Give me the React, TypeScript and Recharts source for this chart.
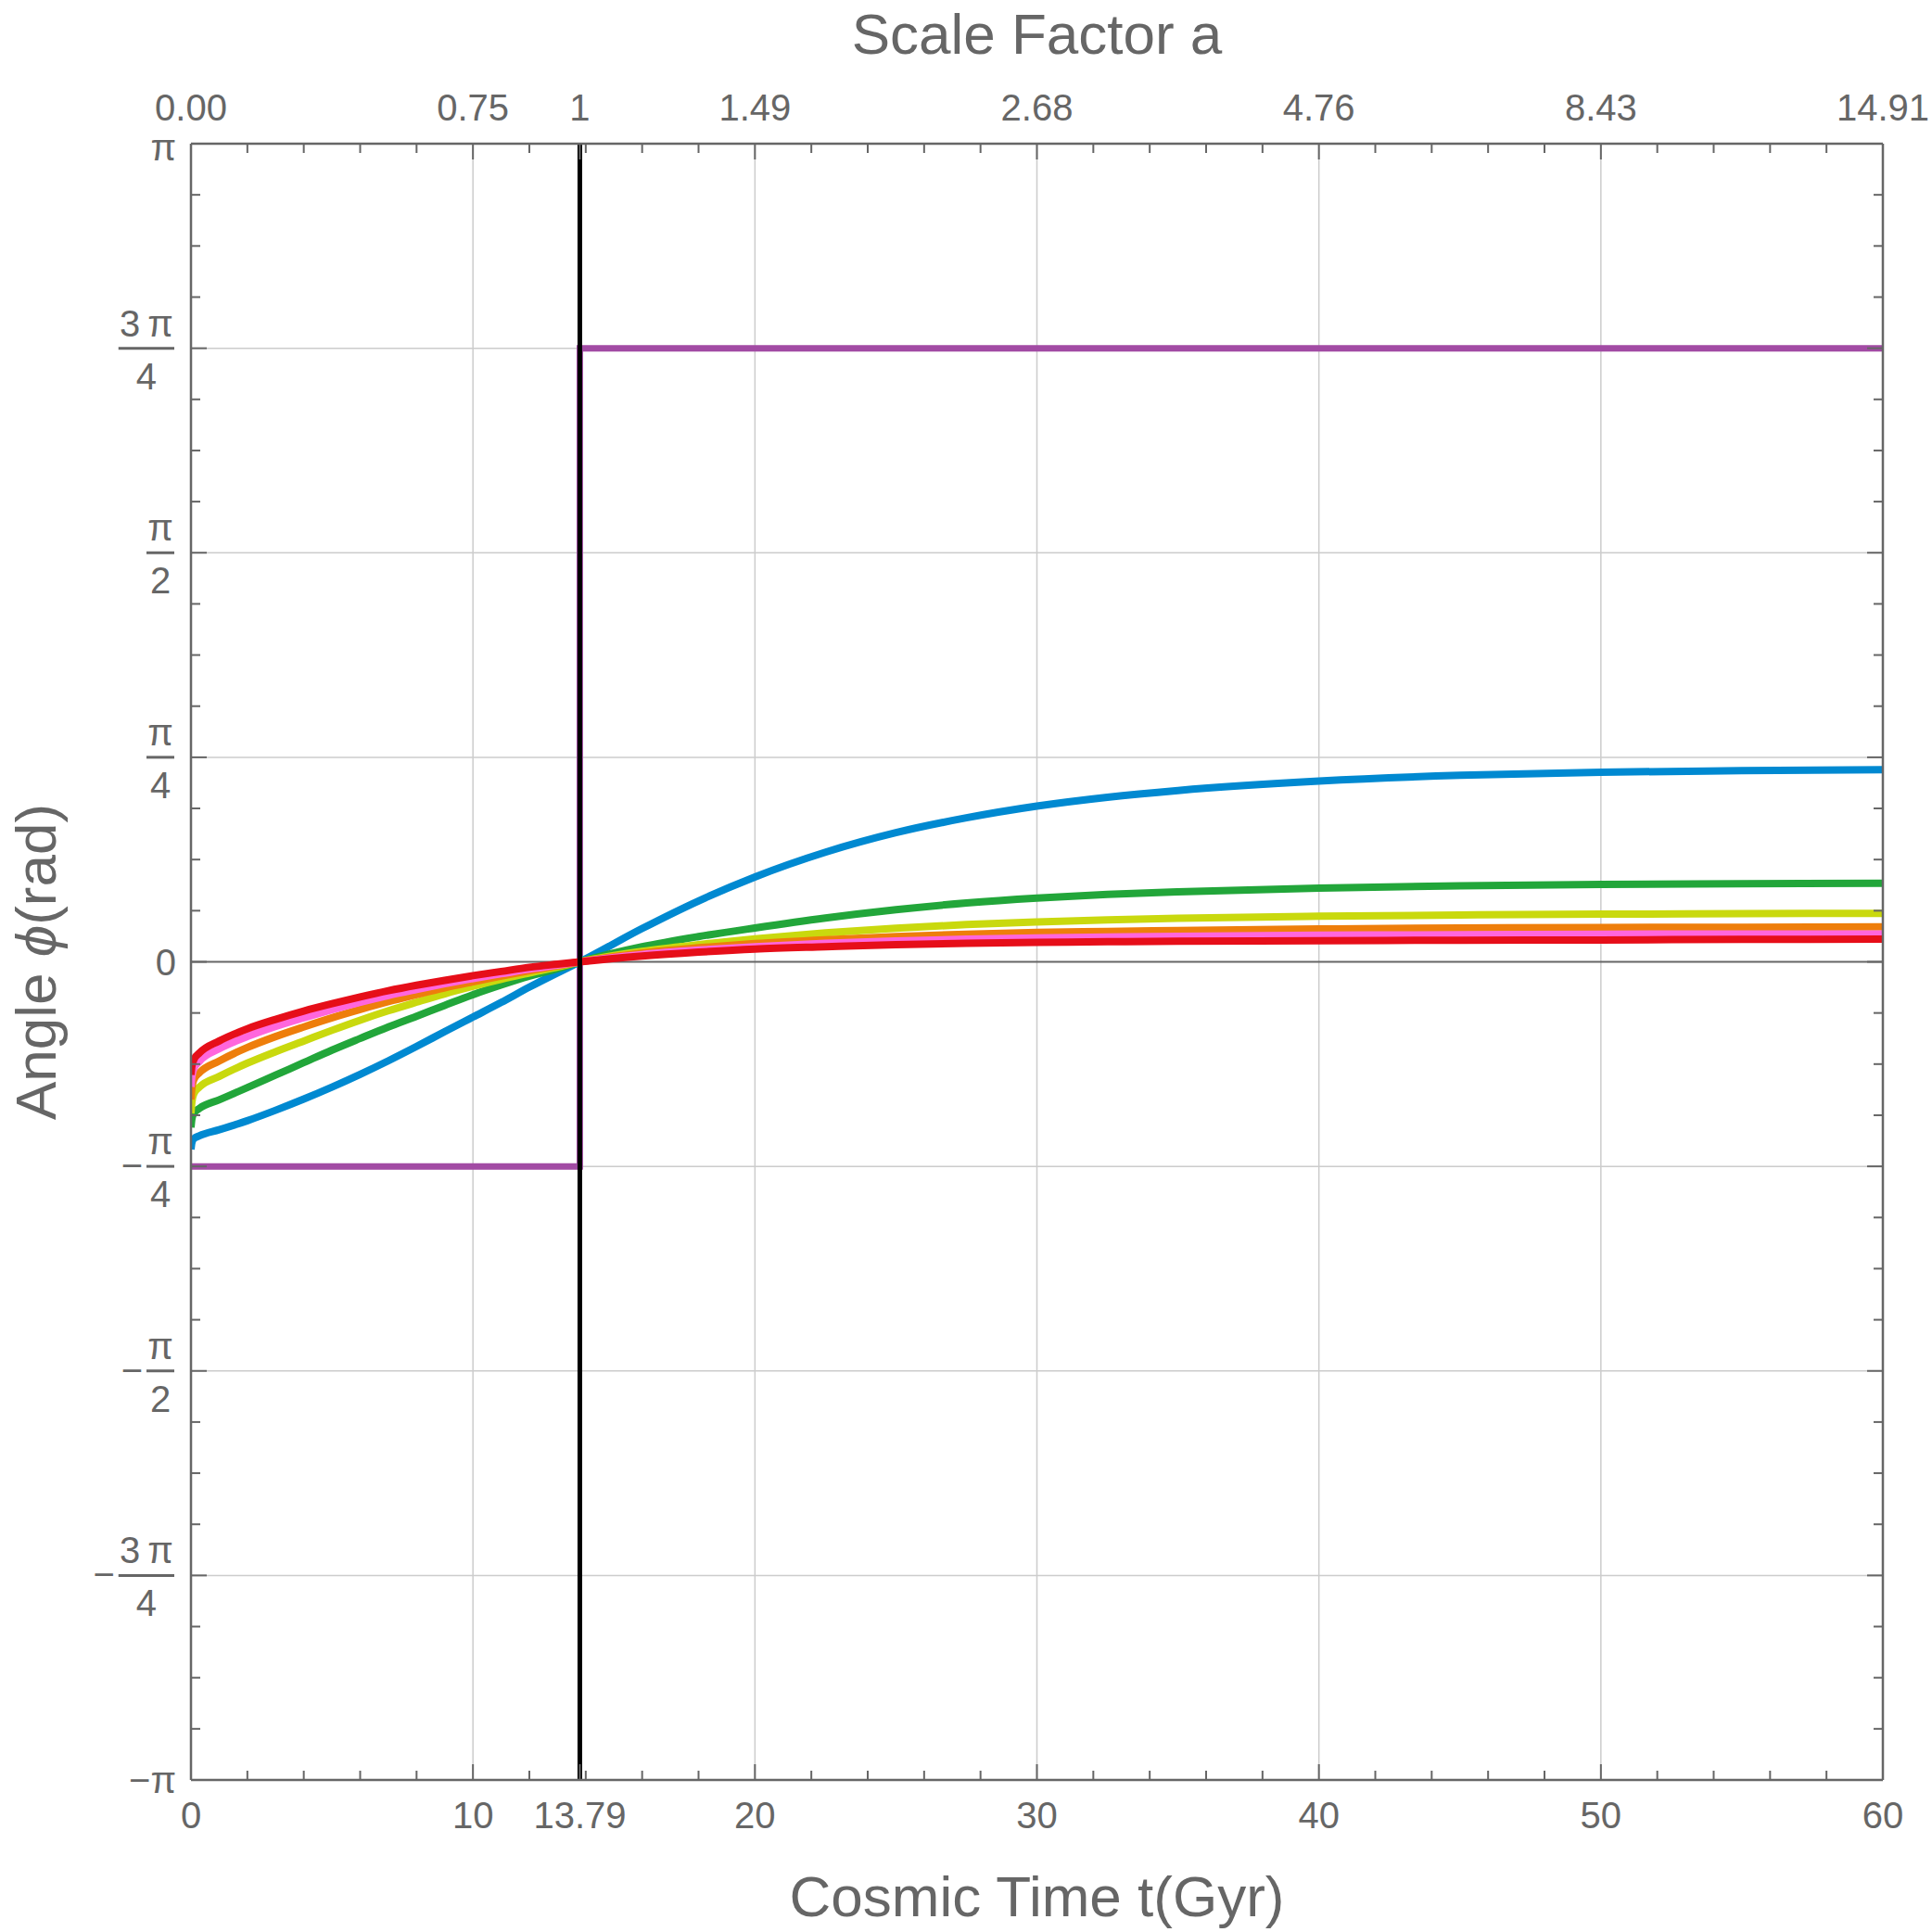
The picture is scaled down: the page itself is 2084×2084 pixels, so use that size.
import React from "react";
import { LineChart, Line, XAxis, YAxis, ReferenceLine, Label } from "recharts";

const PI = Math.PI;

// cosmic time samples (Gyr) shared by the six curves
const tSamples = [0, 0.03, 0.1, 0.3, 1, 2, 3, 4, 5, 6, 7, 8, 9, 10, 11, 12, 13, 13.79, 16, 18, 20, 22.5, 25, 27.5, 30, 32.5, 35, 40, 45, 50, 55, 60];

// angle phi (rad)
const blueVals = [-0.72, -0.695, -0.679, -0.668, -0.645, -0.61, -0.57, -0.527, -0.481, -0.432, -0.38, -0.325, -0.268, -0.212, -0.156, -0.097, -0.042, 0, 0.128, 0.234, 0.326, 0.421, 0.496, 0.553, 0.598, 0.632, 0.658, 0.694, 0.716, 0.728, 0.734, 0.738];
const greenVals = [-0.636, -0.605, -0.582, -0.563, -0.53, -0.483, -0.435, -0.387, -0.339, -0.294, -0.25, -0.209, -0.167, -0.126, -0.089, -0.055, -0.026, 0, 0.058, 0.097, 0.13, 0.168, 0.2, 0.226, 0.245, 0.259, 0.269, 0.283, 0.292, 0.297, 0.3, 0.302];
const yellowVals = [-0.582, -0.54, -0.507, -0.481, -0.44, -0.389, -0.345, -0.304, -0.263, -0.224, -0.188, -0.155, -0.123, -0.094, -0.067, -0.043, -0.02, 0, 0.04, 0.066, 0.088, 0.111, 0.129, 0.143, 0.153, 0.161, 0.167, 0.175, 0.18, 0.183, 0.185, 0.186];
const orangeVals = [-0.529, -0.487, -0.453, -0.426, -0.381, -0.329, -0.287, -0.25, -0.215, -0.183, -0.153, -0.126, -0.1, -0.077, -0.055, -0.034, -0.015, 0, 0.034, 0.054, 0.07, 0.085, 0.097, 0.106, 0.113, 0.117, 0.12, 0.126, 0.13, 0.132, 0.133, 0.134];
const pinkVals = [-0.48, -0.442, -0.411, -0.382, -0.334, -0.287, -0.248, -0.215, -0.184, -0.155, -0.129, -0.106, -0.084, -0.064, -0.046, -0.028, -0.013, 0, 0.028, 0.045, 0.058, 0.071, 0.08, 0.087, 0.092, 0.095, 0.098, 0.102, 0.104, 0.106, 0.107, 0.107];
const redVals = [-0.434, -0.402, -0.376, -0.35, -0.304, -0.257, -0.221, -0.189, -0.161, -0.135, -0.111, -0.09, -0.071, -0.053, -0.037, -0.021, -0.009, 0, 0.022, 0.037, 0.049, 0.058, 0.066, 0.071, 0.075, 0.077, 0.079, 0.081, 0.083, 0.084, 0.086, 0.087];

// step curve
const stepT = [0, 13.79, 13.79, 60];
const stepVals = [-PI / 4, -PI / 4, (3 * PI) / 4, (3 * PI) / 4];

// present-day marker
const nowT = [13.79, 13.79];
const nowVals = [-PI, PI];

// axis ticks
const xMajorTicks = [0, 10, 13.79, 20, 30, 40, 50, 60];
const xBottomLabels = ["0", "10", "13.79", "20", "30", "40", "50", "60"];
const xTopLabels = ["0.00", "0.75", "1", "1.49", "2.68", "4.76", "8.43", "14.91"];
const xMinorTicks = [2, 4, 6, 8, 12, 14, 16, 18, 22, 24, 26, 28, 32, 34, 36, 38, 42, 44, 46, 48, 52, 54, 56, 58];
const xGridValues = [10, 20, 30, 40, 50];
const yLabels = ["−π", "−3π/4", "−π/2", "−π/4", "0", "π/4", "π/2", "3π/4", "π"];
const yGridValues = [-3 * PI / 4, -PI / 2, -PI / 4, PI / 4, PI / 2, 3 * PI / 4];

const xTicks = [...xMajorTicks, ...xMinorTicks].sort((a, b) => a - b);
const yTicks = Array.from({ length: 33 }, (_, i) => ((i - 16) * PI) / 16);

const makeSeries = (ts: number[], vs: number[]) => ts.map((t, i) => ({ t, phi: vs[i] }));

const curves = [
  { name: "blue", color: "#0089D1", vals: blueVals },
  { name: "green", color: "#22A63A", vals: greenVals },
  { name: "yellow", color: "#C9D90E", vals: yellowVals },
  { name: "orange", color: "#EE7E0B", vals: orangeVals },
  { name: "pink", color: "#FF66DD", vals: pinkVals },
  { name: "red", color: "#E60E19", vals: redVals },
];

const FONT = "'Liberation Sans', Arial, sans-serif";
const GREY = "#666666";
const TICK_FS = 40;
const MAJOR_LEN = 17;
const MINOR_LEN = 10;

const majorIndex = (v: number) => xMajorTicks.findIndex((m) => Math.abs(m - v) < 1e-6);

const BottomTick = (props: any) => {
  const { x, y, payload } = props;
  const idx = majorIndex(payload.value);
  const len = idx >= 0 ? MAJOR_LEN : MINOR_LEN;
  return (
    <g>
      <line x1={x} y1={y} x2={x} y2={y - len} stroke={GREY} strokeWidth={2} />
      {idx >= 0 && (
        <text x={x} y={y + 52} textAnchor="middle" fontSize={TICK_FS} fill={GREY} fontFamily={FONT}>
          {xBottomLabels[idx]}
        </text>
      )}
    </g>
  );
};

const TopTick = (props: any) => {
  const { x, y, payload } = props;
  const idx = majorIndex(payload.value);
  const len = idx >= 0 ? MAJOR_LEN : MINOR_LEN;
  return (
    <g>
      <line x1={x} y1={y} x2={x} y2={y + len} stroke={GREY} strokeWidth={2} />
      {idx >= 0 && (
        <text x={x} y={y - 25} textAnchor="middle" fontSize={TICK_FS} fill={GREY} fontFamily={FONT}>
          {xTopLabels[idx]}
        </text>
      )}
    </g>
  );
};

const charW = (s: string) => {
  let w = 0;
  for (const c of s) {
    if (c === " " || c === "\u2009") w += 0.2;
    else if (c === "π") w += 0.6;
    else w += 0.556;
  }
  return w * TICK_FS;
};

const LeftTick = (props: any) => {
  const { x, y, payload } = props;
  const k = Math.round(payload.value / (PI / 16));
  const major = k % 4 === 0;
  const len = major ? MAJOR_LEN : MINOR_LEN;
  const line = <line x1={x} y1={y} x2={x + len} y2={y} stroke={GREY} strokeWidth={2} />;
  if (!major) return <g>{line}</g>;
  const label = yLabels[k / 4 + 4];
  const R = x - 18;
  const txt = { fontSize: TICK_FS, fill: GREY, fontFamily: FONT } as any;
  if (!label.includes("/")) {
    const dy = k === 16 ? 18 : 14;
    return (
      <g>
        {line}
        <text x={R + 2} y={y + dy} textAnchor="end" {...txt}>
          {label}
        </text>
      </g>
    );
  }
  const neg = label.startsWith("−");
  const body = neg ? label.slice(1) : label;
  const [numRaw, den] = body.split("/");
  const num = numRaw.length > 1 ? numRaw[0] + "\u2009" + numRaw.slice(1) : numRaw;
  const w = Math.max(charW(num), charW(den)) + 6;
  const cx = R - w / 2;
  return (
    <g>
      {line}
      <line x1={R - w} y1={y} x2={R} y2={y} stroke={GREY} strokeWidth={3} />
      <text x={cx} y={y - 13} textAnchor="middle" {...txt}>
        {num}
      </text>
      <text x={cx} y={y + 44} textAnchor="middle" {...txt}>
        {den}
      </text>
      {neg && (
        <text x={R - w - 4} y={y + 13} textAnchor="end" {...txt}>
          −
        </text>
      )}
    </g>
  );
};

const RightTick = (props: any) => {
  const { x, y, payload } = props;
  const k = Math.round(payload.value / (PI / 16));
  const len = k % 4 === 0 ? MAJOR_LEN : MINOR_LEN;
  return <line x1={x} y1={y} x2={x - len} y2={y} stroke={GREY} strokeWidth={2} />;
};

const titleStyle = { fontSize: 62, fill: GREY, fontFamily: FONT } as any;

const BottomTitle = (props: any) => {
  const vb = props.viewBox;
  return (
    <text x={vb.x + vb.width / 2} y={vb.y + 147} textAnchor="middle" {...titleStyle}>
      Cosmic Time t(Gyr)
    </text>
  );
};

const TopTitle = (props: any) => {
  const vb = props.viewBox;
  return (
    <text x={vb.x + vb.width / 2} y={vb.y + 58} textAnchor="middle" {...titleStyle}>
      Scale Factor a
    </text>
  );
};

const LeftTitle = (props: any) => {
  const vb = props.viewBox;
  const cx = vb.x + 60;
  const cy = vb.y + vb.height / 2;
  return (
    <text x={cx} y={cy} textAnchor="middle" transform={`rotate(-90, ${cx}, ${cy})`} {...titleStyle}>
      Angle <tspan fontStyle="italic">ϕ</tspan>(rad)
    </text>
  );
};

export default function App() {
  return (
    <div style={{ position: "absolute", left: 0, top: 0, background: "#fff" }}>
      <LineChart width={2084} height={2084} margin={{ top: 0, right: 0, bottom: 0, left: 0 }}>
        <XAxis
          xAxisId="bottom"
          orientation="bottom"
          type="number"
          dataKey="t"
          domain={[0, 60]}
          allowDataOverflow
          ticks={xTicks}
          interval={0}
          height={164}
          tickSize={0}
          tickMargin={0}
          tickLine={false}
          axisLine={{ stroke: GREY, strokeWidth: 2.5 }}
          tick={<BottomTick />}
        >
          <Label content={<BottomTitle />} />
        </XAxis>
        <XAxis
          xAxisId="top"
          orientation="top"
          type="number"
          dataKey="t"
          domain={[0, 60]}
          allowDataOverflow
          ticks={xTicks}
          interval={0}
          height={155}
          tickSize={0}
          tickMargin={0}
          tickLine={false}
          axisLine={{ stroke: GREY, strokeWidth: 2.5 }}
          tick={<TopTick />}
        >
          <Label content={<TopTitle />} />
        </XAxis>
        <YAxis
          yAxisId="left"
          orientation="left"
          type="number"
          domain={[-PI, PI]}
          allowDataOverflow
          ticks={yTicks}
          interval={0}
          width={206}
          tickSize={0}
          tickMargin={0}
          tickLine={false}
          axisLine={{ stroke: GREY, strokeWidth: 2.5 }}
          tick={<LeftTick />}
        >
          <Label content={<LeftTitle />} />
        </YAxis>
        <YAxis
          yAxisId="right"
          orientation="right"
          type="number"
          domain={[-PI, PI]}
          allowDataOverflow
          ticks={yTicks}
          interval={0}
          width={53}
          tickSize={0}
          tickMargin={0}
          tickLine={false}
          axisLine={{ stroke: GREY, strokeWidth: 2.5 }}
          tick={<RightTick />}
        />

        {xGridValues.map((v) => (
          <ReferenceLine key={`gx${v}`} x={v} xAxisId="bottom" yAxisId="left" stroke="#cccccc" strokeWidth={1.5} />
        ))}
        {yGridValues.map((v, i) => (
          <ReferenceLine key={`gy${i}`} y={v} xAxisId="bottom" yAxisId="left" stroke="#cccccc" strokeWidth={1.5} />
        ))}
        <ReferenceLine y={0} xAxisId="bottom" yAxisId="left" stroke={GREY} strokeWidth={2} />

        <Line
          data={makeSeries(stepT, stepVals)}
          dataKey="phi"
          xAxisId="bottom"
          yAxisId="left"
          type="linear"
          stroke="#A24BA4"
          strokeWidth={7}
          dot={false}
          activeDot={false}
          isAnimationActive={false}
        />
        {curves.map((c) => (
          <Line
            key={c.name}
            data={makeSeries(tSamples, c.vals)}
            dataKey="phi"
            xAxisId="bottom"
            yAxisId="left"
            type="monotone"
            stroke={c.color}
            strokeWidth={8}
            dot={false}
            activeDot={false}
            isAnimationActive={false}
          />
        ))}
        <Line
          data={makeSeries(nowT, nowVals)}
          dataKey="phi"
          xAxisId="bottom"
          yAxisId="left"
          type="linear"
          stroke="#000000"
          strokeWidth={5}
          dot={false}
          activeDot={false}
          isAnimationActive={false}
        />
      </LineChart>
    </div>
  );
}
